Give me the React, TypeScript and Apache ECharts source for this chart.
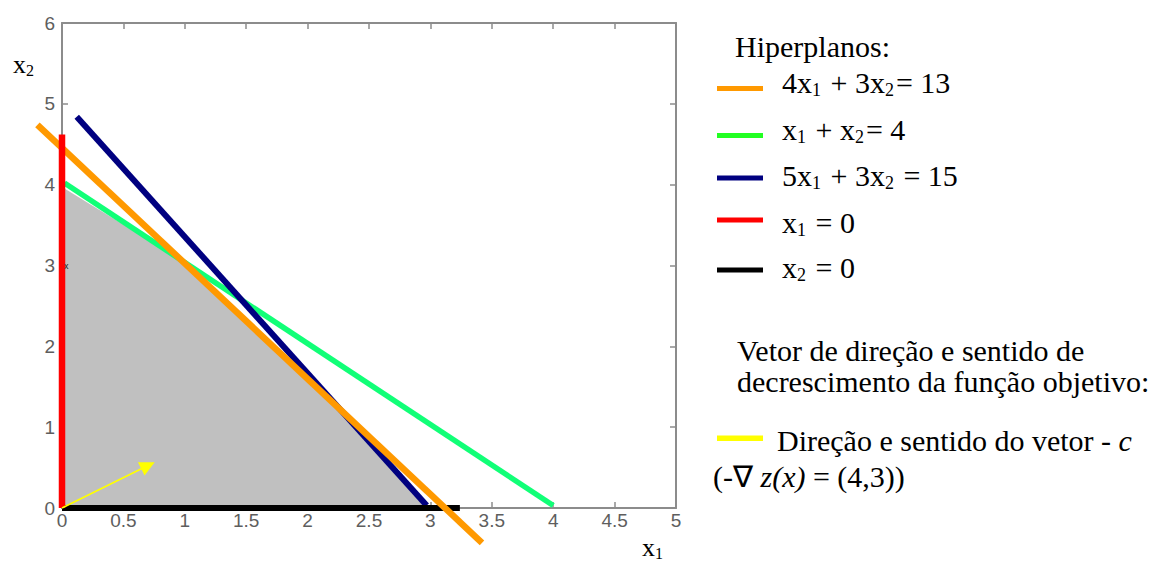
import React, { useEffect, useRef } from 'react';
import * as echarts from 'echarts';

// ---- data ----
const xMin = 0;
const xMax = 5;
const xStep = 0.5;
const yMin = 0;
const yMax = 6;
const yStep = 1;

// upper boundary of the shaded (feasible) region
const feasibleBoundary = [[0, 3.97], [0.98, 3.06], [2.26, 1.23], [2.96, 0]];
// hyperplanes as drawn: [x start, y start, x end, y end]
const lineGreen = [0.02, 4.02, 4, 0.03]; // x1 + x2 = 4
const lineBlue = [0.12, 4.84, 2.97, 0.03]; // 5x1 + 3x2 = 15
const lineBlack = [0, 0, 3.24, 0]; // x2 = 0
const lineOrange = [-0.2, 4.74, 3.42, -0.43]; // 4x1 + 3x2 = 13
const lineRed = [0, 0, 0, 4.62]; // x1 = 0
const directionVector = [[0, 0], [0.7, 0.525]]; // -c = (4,3)

const legendTitle = 'Hiperplanos:';
const legendLabels = [
  '4x{s|1} + 3x{s|2}= 13',
  'x{s|1} + x{s|2}= 4',
  '5x{s|1} + 3x{s|2} = 15',
  'x{s|1} = 0',
  'x{s|2} = 0',
];
const legendColors = ['#ff9900', '#22ff22', '#000080', '#ff0000', '#000000'];
const vectorTitle = ['Vetor de direção e sentido de', 'decrescimento da função objetivo:'];
const vectorLabel = 'Direção e sentido do vetor - {i|c}';
const vectorFormula = '(-∇ {i|z(x)} = (4,3))';

export default function App() {
  const ref = useRef<HTMLDivElement>(null);
  useEffect(() => {
    const chart = echarts.init(ref.current!, null, { renderer: 'svg' });
    const serif = "'Liberation Serif', 'Times New Roman', serif";
    const sans = "'Liberation Sans', Arial, sans-serif";
    const axisColor = '#8c8c8c';
    const fs = 30;
    const k = 0.3375;

    const mkText = (x: number, baseline: number, text: string, size = fs, subSize = 18, subPad = 15) => ({
      type: 'text',
      x,
      y: baseline - k * size,
      silent: true,
      z: 10,
      style: {
        text,
        fontFamily: serif,
        fontSize: size,
        lineHeight: size + 12,
        fill: '#000',
        align: 'left',
        verticalAlign: 'middle',
        textAlign: 'left',
        textVerticalAlign: 'middle',
        rich: {
          s: { fontFamily: serif, fontSize: subSize, lineHeight: size + 12, padding: [subPad, 2, 0, 0], fill: '#000' },
          i: { fontFamily: serif, fontSize: size, fontStyle: 'italic', lineHeight: size + 12, fill: '#000' },
        },
      },
    });

    const legendBaselines = [93, 139.5, 186, 233, 278];
    const swatchCenters = [88.5, 135.5, 178, 220, 270];

    const graphic: any[] = [
      mkText(13, 73, 'x{s|2}', 26, 16, 13),
      mkText(642, 556, 'x{s|1}', 26, 16, 13),
      mkText(735, 57, legendTitle),
      ...legendLabels.map((t, i) => mkText(782, legendBaselines[i], t)),
      ...legendColors.map((c, i) => ({
        type: 'rect',
        silent: true,
        shape: { x: 717, y: swatchCenters[i] - 2.5, width: 46, height: 5 },
        style: { fill: c },
      })),
      mkText(737, 361, vectorTitle[0]),
      mkText(737, 392, vectorTitle[1]),
      {
        type: 'rect',
        silent: true,
        shape: { x: 717, y: 435.5, width: 46, height: 5.5 },
        style: { fill: '#ffff00' },
      },
      mkText(777, 451, vectorLabel),
      mkText(713, 487, vectorFormula),
      {
        type: 'text',
        x: 64,
        y: 266,
        silent: true,
        z: 10,
        style: { text: 'x', fontFamily: sans, fontSize: 9, fill: '#222', verticalAlign: 'middle' },
      },
    ];

    const segmentSeries = (seg: number[], color: string, width: number, z: number) => ({
      type: 'custom',
      coordinateSystem: 'cartesian2d',
      clip: false,
      silent: true,
      z,
      data: [seg],
      encode: { x: [0, 2], y: [1, 3] },
      renderItem: (_p: any, api: any) => {
        const a = api.coord([api.value(0), api.value(1)]);
        const b = api.coord([api.value(2), api.value(3)]);
        return {
          type: 'line',
          shape: { x1: a[0], y1: a[1], x2: b[0], y2: b[1] },
          style: { stroke: color, lineWidth: width, lineCap: 'butt' },
        };
      },
    });

    const xAxisBase = {
      type: 'value',
      min: xMin,
      max: xMax,
      interval: xStep,
      splitLine: { show: false },
      axisLine: { show: true, onZero: false, lineStyle: { color: axisColor, width: 2 } },
      axisTick: { show: true, inside: true, length: 6, lineStyle: { color: axisColor, width: 1.5 } },
    };
    const yAxisBase = {
      type: 'value',
      min: yMin,
      max: yMax,
      interval: yStep,
      splitLine: { show: false },
      axisLine: { show: true, onZero: false, lineStyle: { color: axisColor, width: 2 } },
      axisTick: { show: true, inside: true, length: 6, lineStyle: { color: axisColor, width: 1.5 } },
    };

    chart.setOption({
      animation: false,
      backgroundColor: '#ffffff',
      grid: { left: 62, right: 491, top: 23, bottom: 55, containLabel: false },
      xAxis: [
        {
          ...xAxisBase,
          position: 'bottom',
          axisLabel: { color: '#5e5e5e', fontSize: 19, fontFamily: sans, margin: 3 },
        },
        { ...xAxisBase, position: 'top', axisLabel: { show: false } },
      ],
      yAxis: [
        {
          ...yAxisBase,
          position: 'left',
          axisLabel: { color: '#5e5e5e', fontSize: 19, fontFamily: sans, margin: 7 },
        },
        { ...yAxisBase, position: 'right', axisLabel: { show: false } },
      ],
      series: [
        {
          type: 'line',
          data: feasibleBoundary,
          showSymbol: false,
          symbol: 'none',
          silent: true,
          z: 1,
          lineStyle: { width: 0, color: '#c0c0c0' },
          areaStyle: { color: '#c0c0c0', opacity: 1, origin: 'start' },
        },
        segmentSeries(lineGreen, '#11ff77', 5.5, 3),
        segmentSeries(lineBlue, '#000080', 6, 4),
        segmentSeries(lineBlack, '#000000', 6, 5),
        segmentSeries(lineOrange, '#ff9900', 6.5, 6),
        segmentSeries(lineRed, '#ff0000', 6.5, 7),
        {
          type: 'lines',
          coordinateSystem: 'cartesian2d',
          silent: true,
          z: 8,
          symbol: ['none', 'triangle'],
          symbolSize: 15,
          lineStyle: { color: '#ffff00', width: 1.8, opacity: 1 },
          data: [{ coords: directionVector }],
        },
      ],
      graphic,
    });
    return () => chart.dispose();
  }, []);

  return (
    <div
      ref={ref}
      style={{ position: 'fixed', left: 0, top: 0, width: 1167, height: 563, background: '#fff' }}
    />
  );
}
